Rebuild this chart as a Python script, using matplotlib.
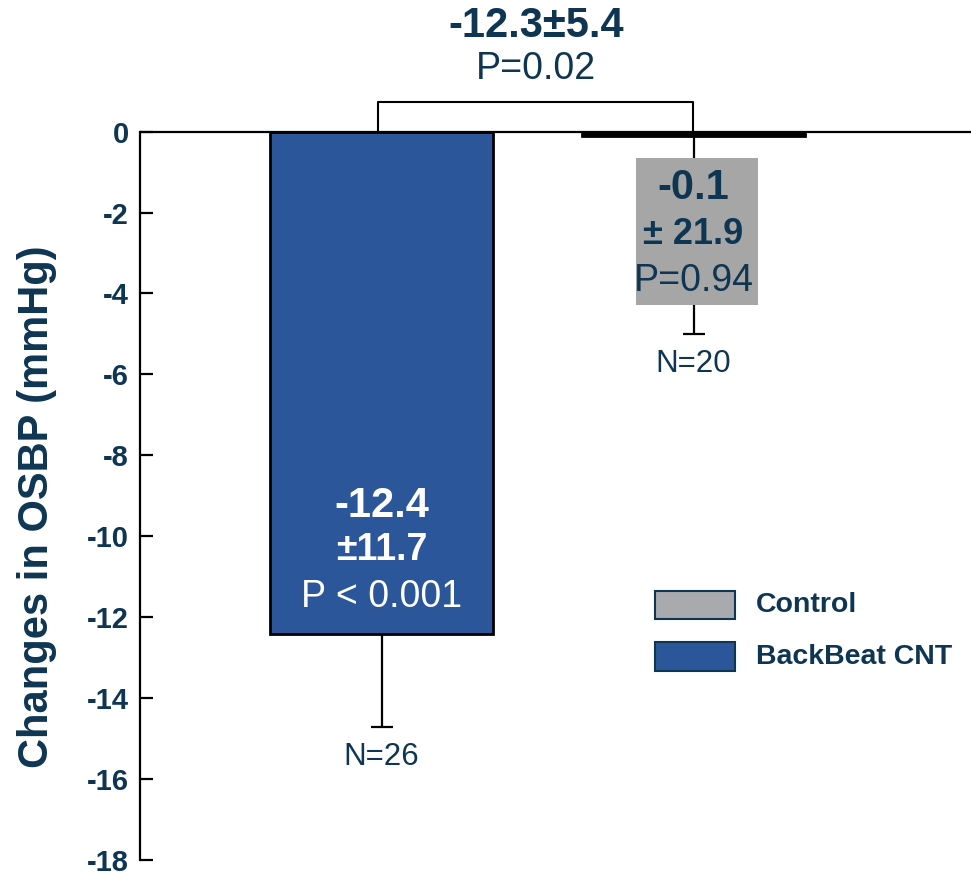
import matplotlib
matplotlib.use("Agg")
import matplotlib.pyplot as plt
from matplotlib.patches import Rectangle

plt.rcParams['font.family'] = ['Liberation Sans', 'DejaVu Sans']

# Data
groups = ["BackBeat CNT", "Control"]
means = [-12.4, -0.1]
err_low = [2.3, 4.9]
sds = ["±11.7", "± 21.9"]
pvals = ["P < 0.001", "P=0.94"]
ns = ["N=26", "N=20"]
diff_text = "-12.3±5.4"
diff_p = "P=0.02"
yticks = [0, -2, -4, -6, -8, -10, -12, -14, -16, -18]

NAVY = '#0E3552'
BLUE = '#2B569A'
GREY = '#A6A6A6'
LGREY = '#A9AAAD'

fig = plt.figure(figsize=(9.71, 8.74), dpi=100)
ax = fig.add_axes([140/971, 0, 831/971, 1])
x = [0, 1]
ax.set_xlim(-0.774, 1.889)
ax.set_ylim(-18.34, 3.25)

bar_faces = [BLUE, 'black']
ax.bar(x, means, width=0.715, color=bar_faces, edgecolor='black', linewidth=2, zorder=3)
ax.errorbar(x, means, yerr=[err_low, [0, 0]], fmt='none', ecolor='black',
            elinewidth=1.6, capsize=8, capthick=1.6, zorder=2)
ax.axhline(0, color='black', lw=1.6, zorder=4)

# Spines / ticks
for s in ['top', 'right', 'bottom']:
    ax.spines[s].set_visible(False)
ax.spines['left'].set_bounds(-18, 0)
ax.spines['left'].set_linewidth(1.6)
ax.set_xticks([])
ax.set_yticks(yticks)
ax.tick_params(axis='y', direction='in', length=9, width=1.6, pad=8,
               labelsize=21, labelcolor=NAVY)
ax.set_yticklabels([str(t) for t in yticks], fontsize=21, fontweight='bold', color=NAVY,
                   va='center_baseline')
fig.text(37/971, 1 - 507/874, "Changes in OSBP (mmHg)", rotation=90, ha='center', va='center',
         fontsize=30, fontweight='bold', color=NAVY)

# BackBeat bar annotations
ax.text(x[0], -9.24, f"{means[0]}", ha='center', va='center', fontsize=30, fontweight='bold', color='white', zorder=5)
ax.text(x[0], -10.34, sds[0], ha='center', va='center', fontsize=27, fontweight='bold', color='white', zorder=5)
ax.text(x[0], -11.5, pvals[0], ha='center', va='center', fontsize=27, color='white', zorder=5)
ax.text(x[0], -15.44, ns[0], ha='center', va='center', fontsize=22.5, color=NAVY)

# Control annotation box
ax.add_patch(Rectangle((0.816, -4.29), 0.391, 3.625, facecolor=GREY, edgecolor='none', zorder=5))
ax.text(x[1], -1.40, f"{means[1]}", ha='center', va='center', fontsize=30, fontweight='bold', color=NAVY, zorder=6)
ax.text(x[1], -2.54, sds[1], ha='center', va='center', fontsize=26, fontweight='bold', color=NAVY, zorder=6)
ax.text(x[1], -3.69, pvals[1], ha='center', va='center', fontsize=27, color=NAVY, zorder=6)
ax.text(x[1], -5.74, ns[1], ha='center', va='center', fontsize=22.5, color=NAVY)

# Bracket
ax.plot([-0.011, -0.011, 0.998, 0.998], [0, 0.74, 0.74, 0], color='black', lw=1.5, zorder=4, clip_on=False)
ax.text(0.495, 2.61, diff_text, ha='center', va='center', fontsize=30, fontweight='bold', color=NAVY)
ax.text(0.495, 1.55, diff_p, ha='center', va='center', fontsize=27, color=NAVY)

# Legend (manual)
def px2x(px):
    return (px - 381.5) / 312.0
def py2y(py):
    return (133 - py) / 40.6

leg = [("Control", LGREY, 594, 622), ("BackBeat CNT", BLUE, 645, 674)]
for label, c, top, bot in leg:
    ax.add_patch(Rectangle((px2x(655), py2y(bot)), px2x(735) - px2x(655), py2y(top) - py2y(bot),
                           facecolor=c, edgecolor=NAVY, linewidth=1.5, zorder=5))
    ax.text(px2x(756), py2y((top + bot) / 2), label, ha='left', va='center', fontsize=20.5,
            fontweight='bold', color=NAVY)

fig.savefig("out.png", dpi=100)
